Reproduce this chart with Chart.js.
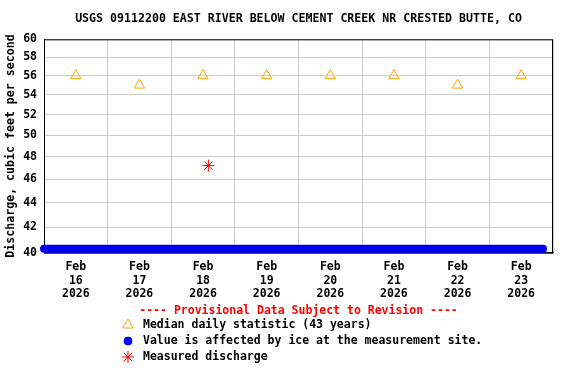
<!DOCTYPE html>
<html>
<head>
<meta charset="utf-8">
<title>USGS 09112200 East River</title>
<script src="https://cdn.jsdelivr.net/npm/chart.js@4/dist/chart.umd.min.js"></script>
<style>
  body { margin: 0; background: #fff; }
  canvas { display: block; }
</style>
</head>
<body>
<canvas id="flowChart" width="576" height="384"></canvas>
<script>
// Datos (horas desde Feb 16 00:00)
const tickMonth = 'Feb';
const tickYear = '2026';
const tickDays = ['16', '17', '18', '19', '20', '21', '22', '23'];

const medianHours = [12, 36, 60, 84, 108, 132, 156, 180];
const medianValues = [56, 55, 56, 56, 56, 56, 55, 56];

const iceHours = [0, 188.25];
const iceValues = [40.3, 40.3];

const measuredHours = [62];
const measuredValues = [47.2];

const yTicks = [40, 42, 44, 46, 48, 50, 52, 54, 56, 58, 60];

const FONT = "'DejaVu Sans Mono', monospace";

function toPoints(xs, ys) {
    return xs.map((x, i) => ({ x: x, y: ys[i] }));
}

// Leyenda y marco dibujados a mano
const usgsPlugin = {
    id: 'usgsExtras',
    beforeDatasetsDraw(chart) {
        const { ctx, chartArea } = chart;
        ctx.save();
        ctx.strokeStyle = '#000';
        ctx.lineWidth = 1;
        ctx.strokeRect(chartArea.left + 0.5, chartArea.top + 0.5,
            chartArea.right - chartArea.left - 1, chartArea.bottom - chartArea.top);
        ctx.restore();
    },
    afterDraw(chart) {
        const { ctx, chartArea } = chart;
        const cx = (chartArea.left + chartArea.right) / 2;
        ctx.save();
        ctx.font = 'bold 11.5px ' + FONT;
        ctx.textBaseline = 'middle';
        ctx.fillStyle = '#ff0000';
        ctx.textAlign = 'center';
        ctx.fillText('---- Provisional Data Subject to Revision ----', cx, 311);

        ctx.textAlign = 'left';
        const rows = [325, 341, 357];
        chart.data.datasets.forEach((ds, i) => {
            const y = rows[i];
            ctx.save();
            ctx.strokeStyle = ds.borderColor;
            ctx.fillStyle = ds.legendFill;
            ctx.lineWidth = ds.pointBorderWidth || 1;
            Chart.helpers.drawPoint(ctx, {
                pointStyle: ds.pointStyle,
                radius: ds.legendRadius,
                borderWidth: ds.pointBorderWidth || 1,
                rotation: 0
            }, 128, y);
            ctx.restore();
            ctx.fillStyle = '#000';
            ctx.fillText(ds.label, 143, y);
        });
        ctx.restore();
    }
};

const ctx = document.getElementById('flowChart').getContext('2d');

new Chart(ctx, {
    type: 'scatter',
    data: {
        datasets: [
            {
                label: 'Median daily statistic (43 years)',
                data: toPoints(medianHours, medianValues),
                pointStyle: 'triangle',
                pointRadius: 6,
                pointBorderWidth: 1,
                borderColor: '#ffa500',
                backgroundColor: 'rgba(0,0,0,0)',
                legendFill: 'rgba(0,0,0,0)',
                legendRadius: 6,
                showLine: false
            },
            {
                label: 'Value is affected by ice at the measurement site.',
                data: toPoints(iceHours, iceValues),
                pointStyle: 'circle',
                pointRadius: 0,
                borderColor: '#0000ff',
                backgroundColor: '#0000ff',
                legendFill: '#0000ff',
                legendRadius: 4,
                showLine: true,
                borderWidth: 8,
                borderCapStyle: 'round',
                clip: false
            },
            {
                label: 'Measured discharge',
                data: toPoints(measuredHours, measuredValues),
                pointStyle: 'star',
                pointRadius: 6,
                pointBorderWidth: 1,
                borderColor: '#ff0000',
                backgroundColor: '#ff0000',
                legendFill: '#ff0000',
                legendRadius: 6,
                showLine: false
            }
        ]
    },
    options: {
        responsive: false,
        animation: false,
        events: [],
        layout: { padding: { left: 0, right: 23, top: 0, bottom: 0 } },
        plugins: {
            legend: { display: false },
            tooltip: { enabled: false },
            title: {
                display: true,
                fullSize: false,
                text: 'USGS 09112200 EAST RIVER BELOW CEMENT CREEK NR CRESTED BUTTE, CO',
                color: '#000',
                font: { family: FONT, size: 11.6, weight: 'bold', lineHeight: 1.2 },
                padding: { top: 12, bottom: 13.4 }
            }
        },
        scales: {
            x: {
                type: 'linear',
                min: 0,
                max: 192,
                afterBuildTicks: scale => {
                    const t = [];
                    for (let h = 0; h <= 192; h += 12) t.push({ value: h });
                    scale.ticks = t;
                },
                afterFit: scale => { scale.height = 131.3; },
                grid: {
                    drawTicks: false,
                    color: c => (c.tick && c.tick.value % 24 === 0) ? '#cccccc' : 'rgba(0,0,0,0)',
                    lineWidth: 1
                },
                border: { color: '#000', width: 1 },
                ticks: {
                    autoSkip: false,
                    maxRotation: 0,
                    padding: 8,
                    color: '#000',
                    font: { family: FONT, size: 11.5, weight: 'bold', lineHeight: 1.17 },
                    callback: value => {
                        if (value % 24 !== 12) return '';
                        const i = (value - 12) / 24;
                        return [tickMonth, tickDays[i], tickYear];
                    }
                }
            },
            y: {
                type: 'logarithmic',
                min: 40,
                max: 60,
                afterBuildTicks: scale => {
                    scale.ticks = yTicks.map(v => ({ value: v }));
                },
                afterFit: scale => { scale.width = 44; },
                grid: { drawTicks: false, color: '#cccccc', lineWidth: 1 },
                border: { color: '#000', width: 1 },
                title: {
                    display: true,
                    text: 'Discharge, cubic feet per second',
                    color: '#000',
                    font: { family: FONT, size: 11.6, weight: 'bold', lineHeight: 1.2 },
                    padding: { top: 4, bottom: 0 }
                },
                ticks: {
                    padding: 7,
                    color: '#000',
                    font: { family: FONT, size: 11.5, weight: 'bold' },
                    callback: value => String(value)
                }
            }
        }
    },
    plugins: [usgsPlugin]
});
</script>
</body>
</html>
